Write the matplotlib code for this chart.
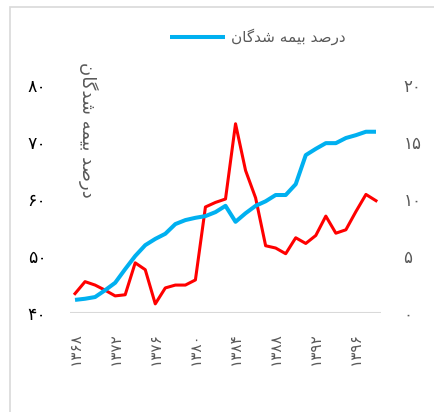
import matplotlib
matplotlib.use("Agg")
import matplotlib.pyplot as plt
from matplotlib.patches import Rectangle

plt.rcParams['font.family'] = ['DejaVu Sans']

# سال‌ها ۱۳۶۸ تا ۱۳۹۸
years = list(range(1368, 1399))
insured_pct = [42.3, 42.5, 42.8, 44.0, 45.3, 47.7, 50.0, 51.9, 53.0, 53.9,
               55.6, 56.3, 56.7, 57.0, 57.7, 58.8, 56.0, 57.5, 58.8, 59.6,
               60.7, 60.7, 62.6, 67.7, 68.8, 69.8, 69.8, 70.7, 71.2, 71.8, 71.8]
red_series = [1.7, 2.75, 2.45, 2.0, 1.5, 1.6, 4.4, 3.8, 0.8, 2.2,
              2.45, 2.45, 2.9, 9.3, 9.7, 10.0, 16.6, 12.5, 10.1, 5.9,
              5.7, 5.2, 6.6, 6.1, 6.8, 8.5, 7.0, 7.3, 8.9, 10.4, 9.85]
left_ticks = [40, 50, 60, 70, 80]
right_ticks = [0, 5, 10, 15, 20]

# "درصد بیمه شدگان" با حروف شکل‌گرفته (ترتیب نمایشی)
label_fa = "\uFEE5\uFE8E\uFB94\uFEAA\uFEB7 \uFEEA\uFEE4\uFEF4\uFE91 \uFEAA\uFEBB\uFEAD\uFEA9"

FA_DIGITS = str.maketrans("0123456789", "۰۱۲۳۴۵۶۷۸۹")


def fa(n):
    return str(n).translate(FA_DIGITS)


fig = plt.figure(figsize=(4.35, 4.12), dpi=100)
fig.patches.append(Rectangle((10 / 435, -0.2), 1.2, 1.2 - 7 / 412,
                             transform=fig.transFigure, fill=False,
                             edgecolor="#d9d9d9", lw=1.2))

ax = fig.add_axes([70 / 435, 1 - 313 / 412, 311 / 435, 228 / 412])
ax2 = ax.twinx()

x = list(range(len(years)))
ln, = ax.plot(x, insured_pct, color="#00B0F0", lw=2.9, solid_capstyle="butt",
              label=label_fa)
ax2.plot(x, red_series, color="#FF0000", lw=2.2)
ax2.set_zorder(ax.get_zorder() - 1)
ax.patch.set_visible(False)
ax.set_zorder(2)

ax.set_xlim(-0.5, len(years) - 0.5)
ax.set_ylim(40, 80)
ax2.set_ylim(0, 20)

for a in (ax, ax2):
    for s in a.spines.values():
        s.set_visible(False)
ax.axhline(40, color="#d9d9d9", lw=1.5, zorder=0)

ax.set_yticks(left_ticks)
ax.set_yticklabels([fa(v) for v in left_ticks], fontsize=12.5, color="black")
ax.tick_params(axis="y", length=0, pad=17)
ax2.set_yticks(right_ticks)
ax2.set_yticklabels([fa(v) for v in right_ticks], fontsize=12, color="#595959")
ax2.tick_params(axis="y", length=0, pad=16)

ax.set_xticks(x[::4])
ax.set_xticklabels([fa(y) for y in years[::4]], rotation=90, fontsize=11,
                   color="#595959")
ax.tick_params(axis="x", length=0, pad=14)

fig.text(88 / 435, 1 - 130 / 412, label_fa, rotation=-90, fontsize=13,
         color="#595959", ha="center", va="center")

fig.legend(handles=[ln], loc="center", bbox_to_anchor=(258 / 435, 1 - 37 / 412),
           frameon=False, fontsize=11, labelcolor="#595959", handlelength=3.6,
           handletextpad=0.4)

fig.savefig("out.png", dpi=100)
